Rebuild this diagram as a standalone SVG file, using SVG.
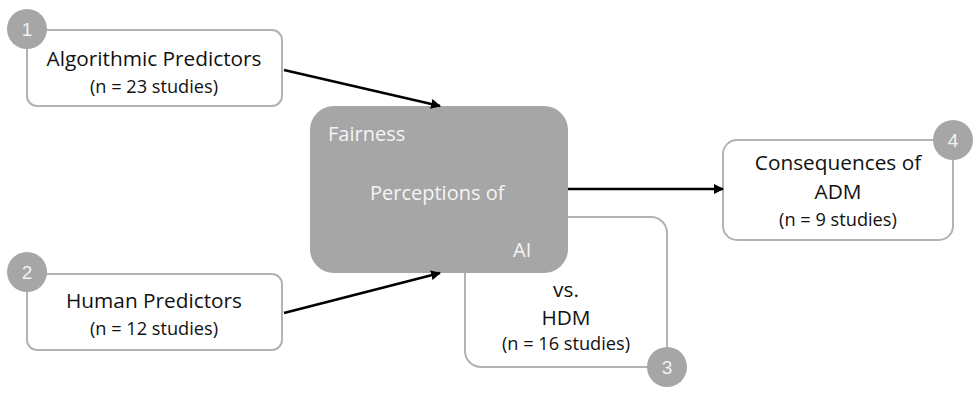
<svg xmlns="http://www.w3.org/2000/svg" width="978" height="402" viewBox="0 0 978 402">
<style>
.box{fill:#fff;stroke:#b3b3b3;stroke-width:2}
.badge{fill:#a6a6a6}
.num{font-family:"Liberation Sans",Arial,sans-serif;font-size:19px;fill:#f2f2f2;text-anchor:middle}
.t{font-family:"Open Sans","Liberation Sans",sans-serif;font-size:20.8px;fill:#111;text-anchor:middle}
.s{font-family:"Open Sans","Liberation Sans",sans-serif;font-size:18.2px;fill:#111;text-anchor:middle}
.w{font-family:"Open Sans","Liberation Sans",sans-serif;font-size:20px;fill:#f4f4f4}
.conn{stroke:#000;stroke-width:2.5;fill:none;marker-end:url(#ah)}
</style>
<defs>
<marker id="ah" viewBox="0 0 10 10" refX="9" refY="5" markerWidth="4" markerHeight="4" orient="auto" markerUnits="strokeWidth">
<path d="M0,0 L10,5 L0,10 z" fill="#000"/>
</marker>
</defs>
<rect width="978" height="402" fill="#fff"/>
<g id="node3">
<rect class="box" x="465" y="217" width="202" height="150" rx="16"/>
<text class="t" x="566" y="297">vs.</text>
<text class="t" x="566" y="325">HDM</text>
<text class="s" x="566" y="350">(n = 16 studies)</text>
<circle class="badge" cx="667" cy="367" r="20"/>
<text class="num" x="667" y="374">3</text>
</g>
<g id="center">
<rect x="310" y="106" width="258" height="167" rx="24" fill="#a6a6a6"/>
<text class="w" x="328" y="141">Fairness</text>
<text class="w" x="370" y="200">Perceptions of</text>
<text class="w" x="513" y="257">AI</text>
</g>
<g id="node1">
<rect class="box" x="27" y="30" width="255" height="76" rx="10"/>
<text class="t" x="154" y="66">Algorithmic Predictors</text>
<text class="s" x="154" y="93">(n = 23 studies)</text>
<circle class="badge" cx="27" cy="29" r="20"/>
<text class="num" x="27" y="36">1</text>
</g>
<g id="node2">
<rect class="box" x="27" y="274" width="255" height="76" rx="10"/>
<text class="t" x="154" y="308">Human Predictors</text>
<text class="s" x="154" y="335">(n = 12 studies)</text>
<circle class="badge" cx="27" cy="272" r="20"/>
<text class="num" x="27" y="279">2</text>
</g>
<g id="node4">
<rect class="box" x="723" y="140" width="230" height="100" rx="14"/>
<text class="t" x="838" y="170">Consequences of</text>
<text class="t" x="838" y="199">ADM</text>
<text class="s" x="838" y="226">(n = 9 studies)</text>
<circle class="badge" cx="953" cy="140" r="20"/>
<text class="num" x="953" y="147">4</text>
</g>
<g id="connectors">
<line class="conn" x1="284" y1="70" x2="440" y2="106"/>
<line class="conn" x1="284" y1="313" x2="440" y2="273"/>
<line class="conn" x1="568" y1="189" x2="723" y2="189"/>
</g>
</svg>
